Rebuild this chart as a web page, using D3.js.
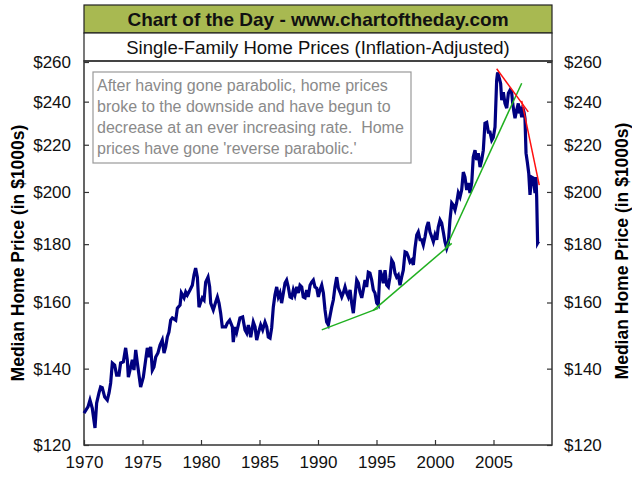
<!DOCTYPE html>
<html><head><meta charset="utf-8">
<script src="https://cdn.jsdelivr.net/npm/d3@7"></script>
<style>html,body{margin:0;padding:0;background:#fff;}svg{display:block;font-family:Arial,"Liberation Sans",sans-serif;}</style>
</head><body><svg id="c" width="632" height="478"></svg>
<script>
// ---- data ----
const years = [1970.00,1970.34,1970.51,1970.71,1970.94,1971.08,1971.28,1971.42,1971.56,1971.77,1971.99,1972.14,1972.28,1972.42,1972.62,1972.79,1972.99,1973.13,1973.36,1973.56,1973.70,1973.79,1973.93,1974.13,1974.27,1974.42,1974.56,1974.70,1974.84,1975.07,1975.27,1975.41,1975.56,1975.70,1975.84,1975.98,1976.13,1976.32,1976.50,1976.69,1976.84,1976.98,1977.12,1977.26,1977.41,1977.55,1977.84,1977.98,1978.21,1978.32,1978.55,1978.69,1978.83,1979.06,1979.26,1979.40,1979.54,1979.69,1979.83,1979.97,1980.11,1980.26,1980.40,1980.60,1980.74,1980.83,1981.05,1981.25,1981.40,1981.54,1981.68,1981.82,1982.11,1982.25,1982.45,1982.68,1982.76,
1982.91,1983.05,1983.33,1983.56,1983.76,1983.91,1984.05,1984.25,1984.47,1984.62,1984.76,1984.90,1985.10,1985.27,1985.47,1985.62,1985.75,1985.90,1986.04,1986.18,1986.32,1986.47,1986.61,1986.75,1986.89,1987.04,1987.18,1987.32,1987.46,1987.61,1987.75,1987.89,1988.03,1988.18,1988.32,1988.46,1988.61,1988.74,1988.89,1989.03,1989.17,1989.32,1989.46,1989.60,1989.74,1989.89,1990.03,1990.17,1990.32,1990.46,1990.60,1990.74,1990.88,1991.03,1991.17,1991.31,1991.45,1991.60,1991.74,1991.88,1992.03,1992.16,1992.31,1992.45,1992.59,1992.74,1992.88,1993.02,1993.16,1993.31,1993.45,1993.59,1993.74,1993.87,1994.02,1994.16,1994.30,1994.44,1994.59,1994.73,1994.87,1995.02,1995.15,
1995.30,1995.44,1995.58,1995.73,1995.87,1996.01,1996.15,1996.30,1996.44,1996.58,1996.72,1996.86,1997.01,1997.15,1997.29,1997.44,1997.58,1997.72,1997.86,1998.01,1998.15,1998.29,1998.44,1998.57,1998.72,1998.86,1999.00,1999.15,1999.29,1999.43,1999.57,1999.72,1999.86,2000.00,2000.15,2000.28,2000.43,2000.57,2000.71,2000.85,2001.00,2001.14,2001.28,2001.43,2001.56,2001.71,2001.85,2001.99,2002.14,2002.28,2002.42,2002.56,2002.71,2002.85,2002.99,2003.14,2003.27,2003.42,2003.56,2003.70,2003.85,2003.99,2004.13,2004.27,2004.42,2004.56,2004.70,2004.85,2004.98,2005.13,2005.27,2005.35,2005.50,2005.61,2005.70,2005.84,2005.98,2006.13,2006.27,2006.41,2006.55,2006.64,2006.75,2006.84,2006.98,2007.12,2007.21,2007.32,2007.41,2007.49,2007.61,2007.69,2007.78,2007.89,2008.01,2008.12,2008.26,2008.40,2008.55,2008.63,2008.69,2008.77,2008.86];
const prices = [128.0,129.6,131.4,129.2,124.2,130.6,133.3,134.9,134.7,132.2,131.4,133.3,136.0,141.6,141.0,138.2,138.2,141.6,141.9,146.0,142.5,137.6,139.6,142.5,139.6,145.4,141.6,138.2,134.9,137.6,142.5,146.0,143.3,146.3,139.6,140.5,143.3,144.5,146.8,148.3,144.5,146.3,149.2,150.7,154.4,155.1,154.4,158.2,159.2,163.1,161.5,163.4,162.4,164.1,165.7,169.1,171.5,168.4,158.5,160.1,161.5,160.8,166.7,168.4,165.1,159.8,157.6,160.1,161.8,159.8,156.6,152.3,152.3,153.5,154.4,152.3,147.7,
152.3,150.7,155.1,155.4,151.4,150.4,152.9,149.2,153.8,152.3,148.3,150.4,152.9,151.4,153.8,152.3,149.2,148.9,152.0,158.5,162.4,165.1,161.8,163.1,159.8,163.1,166.4,167.4,165.1,161.8,161.5,164.1,162.4,165.1,163.1,165.7,165.1,161.8,161.5,164.1,161.8,165.7,166.7,167.4,165.1,164.7,161.8,164.1,165.7,163.1,157.6,153.8,152.9,155.8,158.5,160.8,165.1,168.4,164.7,163.4,161.8,163.1,165.1,163.1,161.8,164.1,159.8,156.6,161.8,167.4,166.4,163.4,161.5,164.1,167.4,165.1,170.1,169.8,167.4,164.1,163.1,159.8,159.2,
170.8,169.1,166.4,170.8,165.7,165.1,168.4,174.3,173.3,169.8,168.4,169.1,165.7,168.4,170.8,177.2,176.9,175.5,173.6,174.3,172.6,178.5,183.4,184.5,181.6,181.6,179.7,182.7,186.3,188.2,184.5,182.7,180.9,183.4,181.6,186.3,189.0,187.8,184.5,180.9,178.5,180.4,189.0,195.6,194.8,192.9,195.6,199.6,198.0,200.8,208.2,206.1,200.8,203.7,199.6,203.7,214.6,217.6,213.3,216.3,210.3,213.3,217.6,229.8,230.2,225.7,225.7,222.1,223.3,228.0,250.5,254.6,251.5,249.0,240.7,244.6,239.2,236.9,244.1,245.6,244.6,239.2,234.9,232.1,235.9,239.2,234.4,235.9,232.6,237.4,234.9,232.1,216.3,212.5,207.8,198.8,206.1,205.7,199.6,206.1,198.0,180.4,181.1];

// trend lines drawn on the chart: [year, price] end points
const greenTrend1 = [[1990.32,151.4],[1995.15,158.1]];
const greenTrend2 = [[1994.70,157.4],[2001.43,180.3]];
const greenTrend3 = [[2000.85,177.9],[2007.41,249.1]];
const redTrend1 = [[2005.27,256.5],[2007.97,235.1]];
const redTrend2 = [[2007.41,240.4],[2008.91,202.8]];

const yTicks = [120,140,160,180,200,220,240,260];
const xTicks = [1970,1975,1980,1985,1990,1995,2000,2005];
const title = "Chart of the Day - www.chartoftheday.com";
const subtitle = "Single-Family Home Prices (Inflation-Adjusted)";
const yLabel = "Median Home Price (in $1000s)";
const note = ["After having gone parabolic, home prices","broke to the downside and have begun to","decrease at an ever increasing rate.  Home","prices have gone 'reverse parabolic.'"];

// ---- layout ----
const L = 84, R = 552, T = 61, B = 445;
const svg = d3.select("#c");
const x = d3.scaleLinear().domain([1970, 2010]).range([L, R]);
const y = d3.scaleLog().domain([120, 260]).range([B, 62]);

// title boxes
svg.append("rect").attr("x", L).attr("y", 5).attr("width", R - L).attr("height", 28)
  .attr("fill", "#A8B951").attr("stroke", "#222").attr("stroke-width", 1.2);
svg.append("rect").attr("x", L).attr("y", 33).attr("width", R - L).attr("height", 28)
  .attr("fill", "#fff").attr("stroke", "#222").attr("stroke-width", 1.2);
svg.append("text").attr("x", (L + R) / 2).attr("y", 26).attr("text-anchor", "middle")
  .attr("font-size", 19).attr("font-weight", "bold").attr("fill", "#111").text(title);
svg.append("text").attr("x", (L + R) / 2).attr("y", 54).attr("text-anchor", "middle")
  .attr("font-size", 18.5).attr("fill", "#111").text(subtitle);

// plot frame
svg.append("rect").attr("x", L).attr("y", T).attr("width", R - L).attr("height", B - T)
  .attr("fill", "none").attr("stroke", "#333").attr("stroke-width", 1.5);

// axes
const fmt = d => "$" + d;
const gl = svg.append("g").attr("transform", `translate(${L},0)`)
  .call(d3.axisLeft(y).tickValues(yTicks).tickFormat(fmt).tickSize(-5).tickPadding(13));
const gr = svg.append("g").attr("transform", `translate(${R},0)`)
  .call(d3.axisRight(y).tickValues(yTicks).tickFormat(fmt).tickSize(-5).tickPadding(12));
const gb = svg.append("g").attr("transform", `translate(0,${B})`)
  .call(d3.axisBottom(x).tickValues(xTicks).tickFormat(d3.format("d")).tickSize(-5).tickPadding(11));
[gl, gr, gb].forEach(g => {
  g.select(".domain").remove();
  g.selectAll("line").attr("stroke", "#333").attr("stroke-width", 1.2);
  g.selectAll("text").attr("font-size", 17).attr("fill", "#111").attr("font-family", "Arial, 'Liberation Sans', sans-serif");
});

// axis titles
svg.append("text").attr("transform", "translate(24,253) rotate(-90)").attr("text-anchor", "middle")
  .attr("font-size", 17.5).attr("font-weight", "bold").attr("fill", "#000").text(yLabel);
svg.append("text").attr("transform", "translate(628,251) rotate(-90)").attr("text-anchor", "middle")
  .attr("font-size", 17.5).attr("font-weight", "bold").attr("fill", "#000").text(yLabel);

// annotation box
svg.append("rect").attr("x", 93).attr("y", 72).attr("width", 318).attr("height", 91)
  .attr("fill", "#fff").attr("stroke", "#999").attr("stroke-width", 1.2);
const nt = svg.append("text").attr("font-size", 16).attr("fill", "#8a8a8a").style("white-space", "pre");
note.forEach((s, i) => nt.append("tspan").attr("x", 97).attr("y", 91 + i * 21).text(s));

// data line
const series = years.map((yr, i) => [yr, prices[i]]);
const line = d3.line().x(d => x(d[0])).y(d => y(d[1]));
svg.append("path").datum(series).attr("d", line).attr("fill", "none")
  .attr("stroke", "#000080").attr("stroke-width", 3.2).attr("stroke-linejoin", "miter");

// trend lines
[greenTrend1, greenTrend2, greenTrend3].forEach(t =>
  svg.append("path").datum(t).attr("d", line).attr("fill", "none").attr("stroke", "#20b020").attr("stroke-width", 1.5));
[redTrend1, redTrend2].forEach(t =>
  svg.append("path").datum(t).attr("d", line).attr("fill", "none").attr("stroke", "#ff1010").attr("stroke-width", 1.5));
</script></body></html>
